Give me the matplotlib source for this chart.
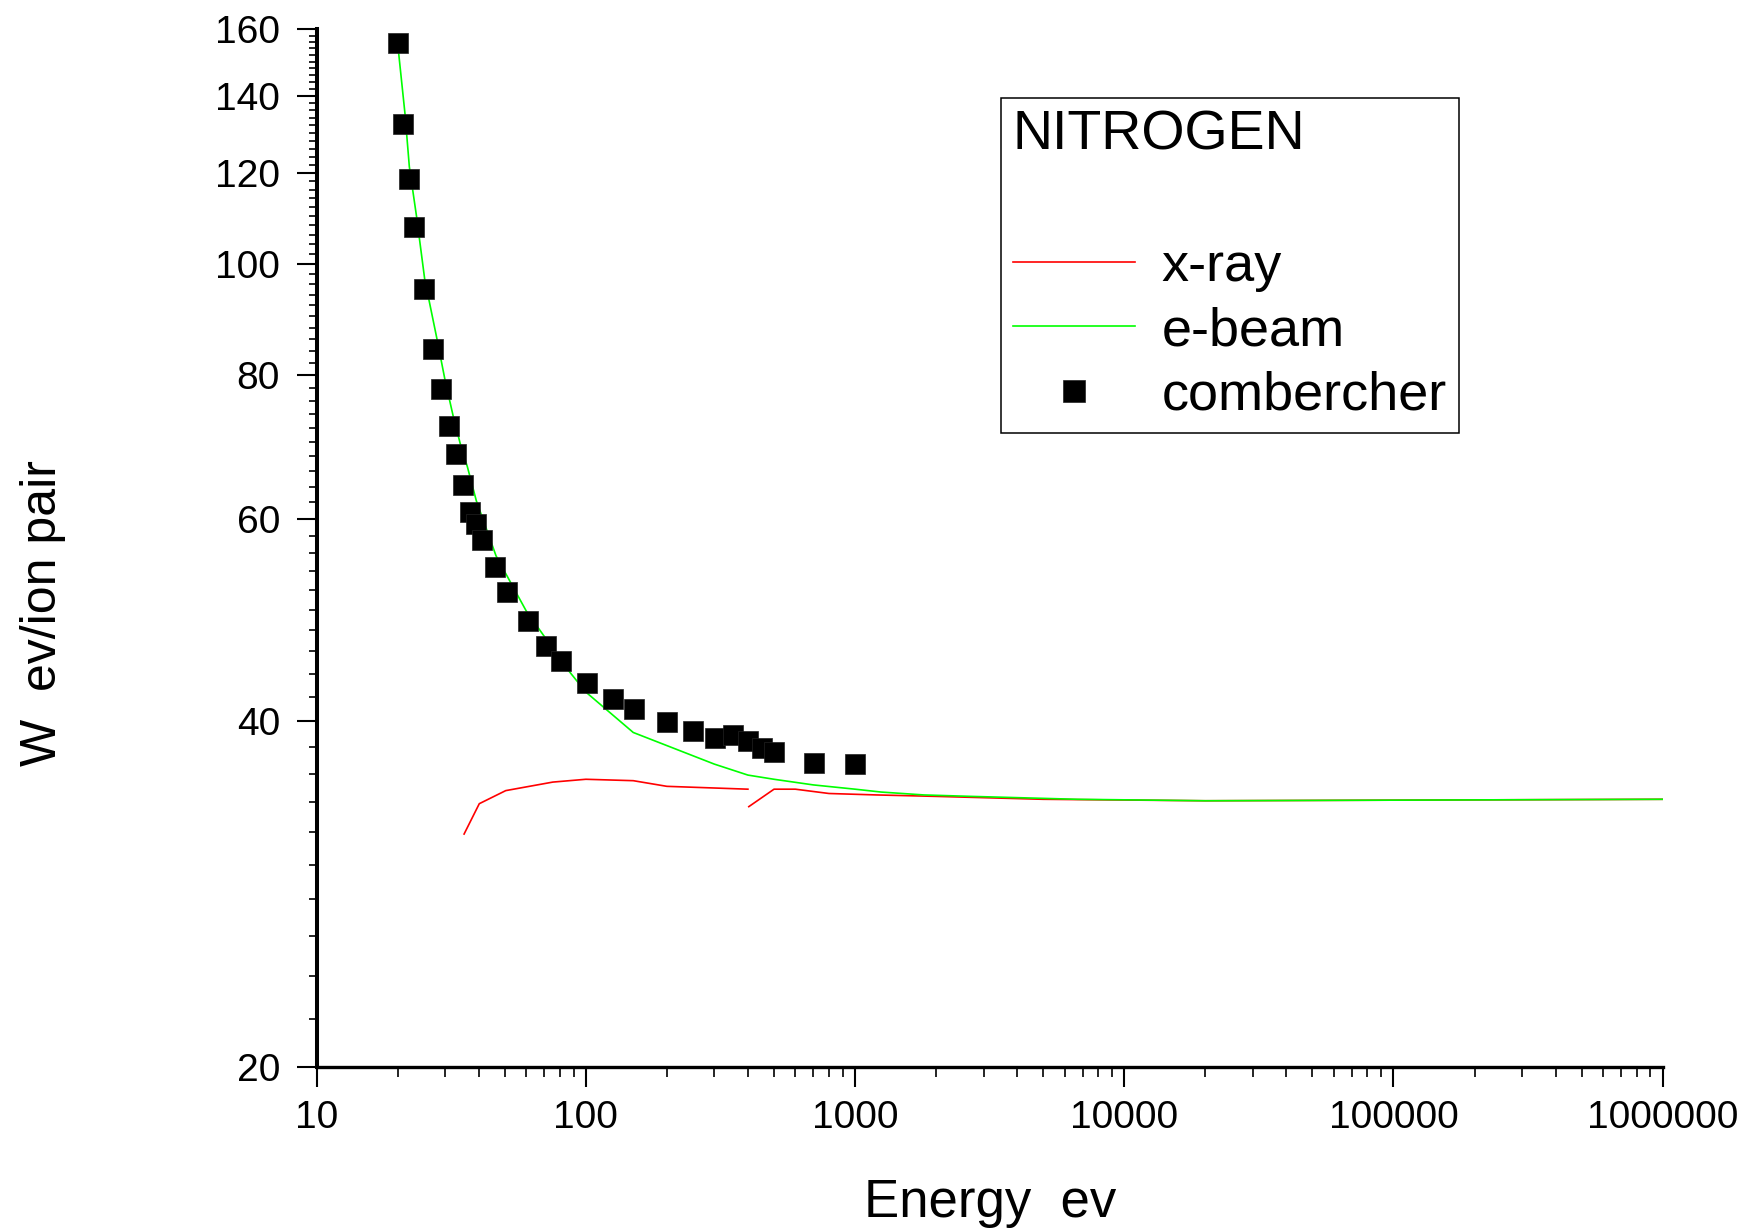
import matplotlib
matplotlib.use('Agg')
import matplotlib.pyplot as plt
from matplotlib import ticker

plt.rcParams['font.family'] = ['Liberation Sans', 'DejaVu Sans']

# combercher data points (energy in eV, W in eV/ion pair)
comb_E = [20, 21, 22, 23, 25, 27, 29, 31, 33, 35, 37, 39, 41, 46, 51, 61, 71, 81,
          101, 126, 151, 201, 251, 301, 351, 401, 451, 501, 701, 1001]
comb_W = [155.8, 132.3, 118.5, 107.7, 95.0, 84.3, 77.8, 72.2, 68.3, 64.2, 60.8, 59.4,
          57.5, 54.5, 51.8, 48.9, 46.5, 45.1, 43.2, 41.8, 41.0, 39.9, 39.2, 38.7,
          38.9, 38.4, 37.9, 37.6, 36.8, 36.7]

# e-beam curve
ebeam_E = [20, 21.3, 22.1, 23.5, 25.2, 28, 30, 32.2, 34.4, 36.3, 39.2, 46.4, 60, 86,
           100, 150, 300, 400, 500, 700, 1000, 1250, 1800, 2700, 6700, 20000, 1000000]
ebeam_W = [155.5, 135, 121.5, 110, 97, 86, 79.2, 73.6, 69.3, 66.6, 62.2, 55.7, 49.9, 44.3,
           42.4, 39.1, 36.7, 35.9, 35.6, 35.2, 34.9, 34.7, 34.5, 34.4, 34.2, 34.1, 34.2]

# x-ray curve (two pieces)
xray1_E = [35.3, 40.2, 50.4, 75.4, 100, 150, 200, 400]
xray1_W = [31.9, 33.9, 34.8, 35.4, 35.6, 35.5, 35.1, 34.9]
xray2_E = [403, 500, 600, 800, 1200, 2000, 5000, 20000, 1000000]
xray2_W = [33.7, 34.9, 34.9, 34.6, 34.5, 34.4, 34.2, 34.1, 34.2]

y_major = [20, 40, 60, 80, 100, 120, 140, 160]
y_minor = [v for v in range(22, 160, 2) if v not in y_major]

fig = plt.figure(figsize=(17.58, 12.31), dpi=100)
ax = fig.add_axes([0.1801, 0.1332, 0.7657, 0.8430])

ax.plot(xray1_E, xray1_W, color='#ff0000', lw=1.2, zorder=2, label='x-ray')
ax.plot(xray2_E, xray2_W, color='#ff0000', lw=1.2, zorder=2)
ax.plot(ebeam_E, ebeam_W, color='#00ff00', lw=1.2, zorder=3, label='e-beam')
ax.plot(comb_E, comb_W, 's', color='black', ms=14.5, mec='#222222', mew=0.5,
        zorder=4, label='combercher')

ax.set_xscale('log')
ax.set_yscale('log')
ax.set_xlim(10, 1000000)
ax.set_ylim(20, 160)

ax.xaxis.set_major_locator(ticker.LogLocator(base=10))
ax.xaxis.set_minor_locator(ticker.LogLocator(base=10, subs=range(2, 10)))
ax.xaxis.set_major_formatter(ticker.FuncFormatter(lambda v, p: '%d' % round(v)))
ax.xaxis.set_minor_formatter(ticker.NullFormatter())

ax.yaxis.set_major_locator(ticker.FixedLocator(y_major))
ax.yaxis.set_minor_locator(ticker.FixedLocator(y_minor))
ax.yaxis.set_major_formatter(ticker.FuncFormatter(lambda v, p: '%d' % round(v)))
ax.yaxis.set_minor_formatter(ticker.NullFormatter())

ax.spines['top'].set_visible(False)
ax.spines['right'].set_visible(False)
ax.spines['left'].set_linewidth(2.9)
ax.spines['bottom'].set_linewidth(2.4)

ax.tick_params(axis='both', which='major', direction='out', length=14.4, width=1.5,
               labelsize=28, colors='black')
ax.tick_params(axis='x', which='major', pad=9)
ax.tick_params(axis='y', which='major', pad=12)
ax.tick_params(axis='x', which='minor', direction='out', length=7, width=1.2)
ax.tick_params(axis='y', which='minor', direction='out', length=6, width=1.2)

ax.set_xlabel('Energy  ev', fontsize=38)
ax.xaxis.label.set_verticalalignment('baseline')
ax.xaxis.set_label_coords(0.5, -0.1443)

ax.set_ylabel('W  ev/ion pair', fontsize=36)
ax.yaxis.label.set_verticalalignment('baseline')
ax.yaxis.set_label_coords(-0.1937, 0.4375)

leg = ax.legend(title='NITROGEN\n', loc='upper left',
                bbox_to_anchor=(1001 / 1758, 1 - 98 / 1231), bbox_transform=fig.transFigure,
                borderaxespad=0, fontsize=39, title_fontsize=40, alignment='left',
                frameon=True, fancybox=False, framealpha=1, edgecolor='black',
                borderpad=0.22, labelspacing=0.27, handlelength=2.25, handletextpad=0.5,
                markerscale=1.1)
leg.get_title().set_linespacing(1.33)
leg.get_frame().set_linewidth(1.1)

fig.savefig('out.png', dpi=100)
